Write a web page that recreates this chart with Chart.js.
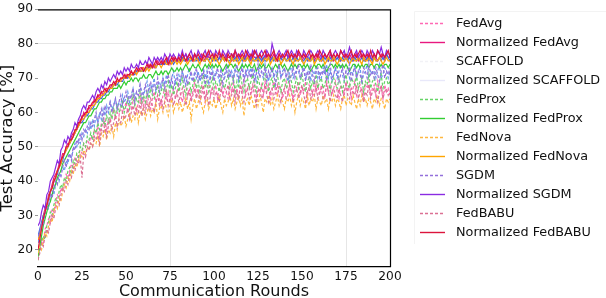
<!DOCTYPE html>
<html>
<head>
<meta charset="utf-8">
<script src="https://cdn.jsdelivr.net/npm/chart.js@4.4.1/dist/chart.umd.min.js"></script>
<style>
html,body{margin:0;padding:0;background:#fff;}
#wrap{width:606px;height:298px;position:relative;}
</style>
</head>
<body>
<div id="wrap"><canvas id="c" width="606" height="298"></canvas></div>
<script>
// ---- data ----
const rounds = Array.from({length: 201}, (_, i) => i);
const xTicks = [0, 25, 50, 75, 100, 125, 150, 175, 200];
const yTicks = [20, 30, 40, 50, 60, 70, 80, 90];
const seriesNames = ["FedAvg", "Normalized FedAvg", "SCAFFOLD", "Normalized SCAFFOLD", "FedProx", "Normalized FedProx",
  "FedNova", "Normalized FedNova", "SGDM", "Normalized SGDM", "FedBABU", "Normalized FedBABU"];

const fedAvg = [
18,21,23,22,26,27,29,28,32,31, 34,36,35,38,37,40,42,41,43,45, 44,47,46,48,49,48,51,50,52,51,
53,52,55,54,56,53,57,56,58,55, 58,57,59,61,58,60,59,62,60,61, 63,60,62,61,64,62,60,63,65,62,
64,62,65,63,61,64,66,63,65,64, 62,65,67,64,66,63,65,67,64,66, 68,65,63,66,68,65,67,64,66,69,
65,67,64,68,66,63,67,69,65,67, 66,68,64,67,69,65,67,66,64,68, 66,69,65,67,64,68,66,70,65,67,
68,65,67,69,64,67,66,68,65,69, 66,68,64,67,69,66,65,68,67,64, 67,69,65,68,66,64,68,67,69,65,
67,66,69,64,68,67,65,69,66,68, 65,68,67,64,69,66,68,65,67,69, 66,64,68,67,65,69,66,68,64,67,
69,65,67,68,66,64,68,67,69,65, 67,68,65,69,66,67,64,68,66,67,65];
const normFedAvg = [
22,25,27,30,32,33,36,37,39,41, 42,43,45,46,48,48,50,51,51,53, 54,54,56,56,58,58,60,59,61,61,
62,62,64,63,65,64,66,65,66,67, 67,67,68,68,69,69,69,70,70,70, 71,70,71,72,71,72,72,73,72,73,
73,72,73,74,73,74,73,74,75,74, 74,75,74,75,76,74,75,76,75,75, 76,75,75,76,77,75,76,76,75,77,
76,75,76,77,76,75,77,76,76,75, 77,76,75,76,77,76,75,77,76,76, 75,77,76,75,76,77,76,75,76,77,
76,75,77,76,76,75,77,76,75,76, 77,76,75,76,77,75,76,77,76,75, 76,77,76,75,77,76,75,76,77,76,
75,76,77,76,75,76,77,75,76,77, 76,75,76,77,76,75,77,76,75,76, 77,76,75,76,77,76,75,77,76,75,
76,77,75,76,77,76,75,76,77,76, 75,77,76,75,76,77,76,75,77,76,76];
const scaffold = [
22,25,26,29,30,33,32,35,37,36, 39,41,40,43,44,43,46,45,48,47, 49,51,50,52,51,54,53,55,54,57,
55,58,56,59,57,60,58,61,59,62, 60,63,61,62,64,61,63,62,65,63, 64,66,63,65,67,64,66,65,68,66,
65,67,69,66,68,67,70,66,68,69, 67,70,68,71,69,67,70,72,68,70, 71,69,72,70,68,71,73,70,69,72,
70,72,69,71,73,70,72,68,71,73, 70,72,71,69,73,71,70,72,74,70, 72,70,73,71,69,72,74,70,71,73,
71,73,70,72,69,71,73,72,70,74, 71,69,72,73,70,72,71,74,70,72, 73,71,69,72,74,70,71,73,72,70,
72,74,70,71,73,69,72,71,73,70, 72,70,73,71,74,70,72,69,71,73, 70,72,74,71,69,72,73,70,72,71,
74,70,72,73,69,71,72,74,70,72, 71,73,70,72,74,70,71,73,72,70,72];
const normScaffold = [
24,26,28,30,31,33,35,37,38,40, 41,42,44,45,46,48,49,50,51,52, 53,54,55,56,57,57,58,59,59,60,
61,61,62,63,63,64,64,65,65,66, 66,67,67,68,68,68,69,69,69,70, 70,70,71,71,71,71,72,72,72,72,
72,73,73,73,73,73,74,73,74,74, 74,74,74,75,74,75,75,74,75,75, 75,75,76,75,75,76,75,75,76,75,
75,76,75,76,75,75,76,75,76,75, 76,75,75,76,75,76,75,76,75,75, 76,75,76,75,75,76,75,76,75,76,
75,76,75,75,76,75,76,75,76,75, 75,76,75,76,75,76,75,75,76,75, 76,75,76,75,75,76,75,76,75,76,
75,75,76,75,76,75,76,75,75,76, 75,76,75,76,75,75,76,75,76,75, 76,75,75,76,75,76,75,76,75,75,
76,75,76,75,76,75,75,76,75,76, 75,76,75,75,76,75,76,75,77,76,75];
const fedProx = [
17,20,22,24,23,27,28,31,30,33, 35,34,37,39,38,41,40,43,44,42, 46,45,48,47,50,49,51,50,53,52,
54,52,55,54,57,55,56,58,56,59, 57,60,58,61,59,62,60,61,63,60, 62,64,61,63,65,62,64,63,66,63,
65,63,66,64,67,65,64,66,68,65, 66,68,65,67,69,66,68,65,67,69, 66,68,70,67,65,68,69,66,68,70,
67,69,66,68,71,67,69,66,68,70, 67,69,68,66,70,68,67,69,71,67, 68,70,66,69,67,71,68,66,69,70,
67,69,71,68,66,70,68,67,69,71, 68,66,69,70,67,69,71,68,66,69, 70,67,68,71,69,66,68,70,67,69,
71,68,66,69,70,67,69,68,71,67, 69,70,67,68,71,69,66,69,70,68, 67,70,68,66,69,71,68,67,70,69,
68,71,67,69,70,66,69,68,71,67, 69,70,68,66,69,71,67,69,70,68,69];
const normFedProx = [
18,21,24,27,29,31,33,34,36,38, 39,41,42,43,45,46,47,48,49,50, 51,52,53,54,55,56,57,57,58,59,
59,60,61,61,62,63,63,64,64,65, 65,66,66,67,67,67,68,67,68,69, 68,69,69,70,69,70,70,69,70,70,
71,70,70,71,71,70,71,72,71,71, 72,71,72,72,71,72,73,72,72,73, 72,73,72,73,74,73,72,73,74,73,
73,74,73,72,73,74,73,74,73,74, 73,74,73,74,73,72,73,74,73,74, 74,73,74,73,72,73,74,73,74,73,
74,73,73,74,72,73,74,73,74,73, 73,74,73,72,73,74,73,74,74,73, 74,73,72,73,74,73,74,73,74,74,
73,74,73,74,73,72,73,74,73,74, 74,73,74,73,72,73,74,74,73,74, 73,74,73,74,73,74,73,72,73,74,
74,73,74,73,74,73,74,74,73,74, 74,73,74,74,73,74,73,74,74,73,74];
const fedNova = [
19,21,20,23,25,24,27,29,28,31, 33,32,35,34,37,39,38,41,40,43, 42,45,44,46,48,47,49,48,50,49,
51,50,52,51,53,50,54,53,55,52, 55,54,56,53,57,55,58,56,57,59, 56,58,60,57,59,58,61,57,60,59,
61,58,60,62,59,61,60,63,58,61, 62,60,63,61,59,62,64,60,62,63, 61,63,60,62,64,61,63,58,62,64,
61,63,65,62,60,63,64,61,63,62, 64,61,63,65,62,60,64,62,63,65, 62,64,61,63,65,62,64,59,63,64,
62,65,63,61,64,62,65,63,60,64, 63,65,62,64,61,63,65,62,64,63, 61,64,63,65,62,64,60,63,65,62,
64,63,61,65,62,64,63,65,61,64, 63,62,65,63,64,61,64,63,65,62, 64,63,61,64,65,62,64,63,62,65,
63,61,64,62,65,63,64,62,64,63, 61,64,63,65,62,64,63,61,64,63,64];
const normFedNova = [
23,24,27,29,31,33,35,37,38,40, 41,43,44,45,47,48,49,50,51,52, 53,54,55,56,57,58,58,59,60,60,
61,62,62,63,64,64,65,65,66,66, 67,67,67,68,68,69,69,69,70,70, 70,71,70,71,71,72,71,72,72,72,
73,72,73,72,73,73,74,73,74,74, 73,74,75,74,74,75,74,75,75,74, 75,74,75,76,75,74,75,76,75,75,
76,75,74,76,75,75,76,75,74,76, 75,76,75,74,75,76,75,76,75,74, 76,75,75,76,74,75,76,75,75,76,
75,74,76,75,75,76,75,74,75,76, 75,76,74,75,76,75,75,76,74,75, 76,75,75,76,75,74,76,75,75,76,
75,74,75,76,75,75,76,74,75,76, 75,75,76,74,75,76,75,75,76,75, 74,75,76,75,75,76,75,74,75,76,
75,75,76,75,74,76,75,75,76,75, 74,76,75,75,76,75,74,75,76,75,75];
const sgdm = [
24,25,28,27,31,32,33,36,35,38, 40,39,42,41,44,46,44,47,48,46, 50,49,52,51,54,52,55,54,56,55,
57,56,58,60,57,59,61,58,62,60, 61,63,60,62,64,61,63,65,62,64, 66,63,65,64,67,63,66,65,68,64,
66,68,65,67,69,66,68,67,70,66, 68,70,67,69,71,68,70,67,69,71, 68,70,72,69,71,68,70,72,69,71,
73,69,71,70,72,68,71,73,70,72, 69,71,73,70,72,68,71,73,70,72, 71,69,72,74,70,71,73,69,72,70,
72,70,73,69,71,74,70,72,71,73, 69,72,70,73,71,68,72,74,70,71, 73,70,72,69,71,73,70,72,74,70,
71,73,69,72,70,74,71,69,72,73, 70,72,71,73,69,72,74,70,71,73, 72,69,71,73,70,72,71,74,69,72,
73,70,72,71,69,73,72,70,74,71, 72,70,73,71,69,72,74,70,72,71,73];
const normSgdm = [
27,28,31,33,32,36,37,40,41,42, 44,46,45,49,50,52,51,53,52,54, 55,57,56,58,59,61,62,61,63,63,
64,65,64,66,67,66,68,67,69,68, 70,69,70,71,70,72,71,72,71,73, 72,73,72,74,73,73,74,73,75,74,
74,75,74,76,75,74,76,75,76,75, 76,75,77,76,75,77,76,77,76,75, 77,76,78,76,77,76,77,78,76,77,
76,78,77,76,77,78,76,77,78,77, 76,78,77,77,76,78,77,76,78,77, 77,76,78,77,76,77,78,77,76,78,
77,76,78,77,78,76,77,78,77,76, 78,77,76,80,78,76,77,78,77,76, 77,78,76,77,78,77,76,78,77,77,
76,78,77,76,77,78,77,76,77,78, 77,76,78,77,76,77,78,76,77,78, 77,76,78,77,78,76,77,79,77,76,
77,78,76,77,78,77,76,78,77,76, 78,77,76,78,77,79,77,76,78,77,77];
const fedBabu = [
17,19,22,21,24,26,25,28,30,29, 32,34,33,36,38,37,40,39,42,41, 44,43,46,45,47,41,48,47,50,49,
51,50,53,52,54,51,55,54,56,53, 56,58,55,57,59,56,58,57,60,58, 59,61,58,60,62,59,61,60,63,59,
62,60,63,61,64,62,60,63,65,62, 64,61,63,66,62,64,65,62,64,66, 63,65,67,64,62,65,66,63,65,67,
64,66,63,65,68,64,66,62,65,67, 64,66,65,63,67,65,64,66,68,64, 65,67,63,66,64,68,65,63,66,67,
64,66,68,65,62,66,67,64,65,68, 65,63,66,67,64,66,68,65,63,66, 67,64,65,68,66,63,65,67,64,66,
68,65,63,66,67,64,66,65,68,64, 66,67,64,65,68,66,63,66,67,65, 64,67,65,63,66,68,65,64,67,66,
65,68,64,66,67,63,66,65,68,64, 66,67,65,63,66,68,64,66,67,65,66];
const normFedBabu = [
20,23,26,29,31,33,35,37,38,40, 41,43,44,46,47,48,50,50,52,52, 53,55,55,57,57,59,59,60,60,62,
62,63,63,64,65,65,66,66,67,66, 67,68,68,69,68,70,69,70,70,71, 70,71,71,72,71,72,73,72,73,73,
72,73,74,73,74,73,74,75,74,74, 75,74,75,76,74,75,76,75,76,75, 76,75,77,76,75,76,77,76,75,77,
76,77,76,75,77,76,77,78,76,77, 76,77,76,78,76,77,76,75,77,76, 77,76,78,76,77,76,77,76,78,77,
76,77,76,78,77,76,77,76,77,78, 76,77,76,77,78,76,75,77,76,77, 76,77,78,76,77,76,77,76,78,77,
76,77,76,77,78,76,77,76,77,76, 78,77,76,77,76,77,78,76,77,76, 77,76,78,77,76,77,76,77,78,76,
77,76,77,78,76,77,76,77,76,78, 76,77,76,78,77,76,77,76,77,78,76];

// ---- styles ----
const seriesValues = [fedAvg, normFedAvg, scaffold, normScaffold, fedProx, normFedProx,
  fedNova, normFedNova, sgdm, normSgdm, fedBabu, normFedBabu];
const lineColors = ["#ff69b4", "#e8187f", "#6495ed", "#4169e1", "#66d466", "#32cd32",
  "#ffb840", "#ffa500", "#9370db", "#8a2be2", "#db7093", "#dc143c"];
const legendColors = ["#ff69b4", "#e8187f", "#f2f2f6", "#e8e8fa", "#66d466", "#32cd32",
  "#ffb840", "#ffa500", "#9370db", "#8a2be2", "#db7093", "#dc143c"];
const dashedFlags = [true, false, true, false, true, false, true, false, true, false, true, false];

const datasets = seriesValues.map((vals, i) => ({
  label: seriesNames[i],
  data: vals.map((v, k) => ({x: rounds[k], y: v})),
  borderColor: lineColors[i],
  backgroundColor: lineColors[i],
  borderWidth: 1.2,
  borderDash: dashedFlags[i] ? [3, 2] : [],
  pointRadius: 0,
  tension: 0,
  fill: false,
  order: seriesValues.length - i
}));

const FONT = "'DejaVu Sans', sans-serif";

const framePlugin = {
  id: 'frame',
  afterDatasetsDraw(chart) {
    const {ctx, chartArea: a} = chart;
    ctx.save();
    ctx.strokeStyle = '#000';
    ctx.lineWidth = 1.2;
    ctx.beginPath();
    ctx.moveTo(a.left, a.top + 0.5);
    ctx.lineTo(a.right + 0.5, a.top + 0.5);
    ctx.lineTo(a.right + 0.5, a.bottom);
    ctx.stroke();
    ctx.restore();
  },
  afterDraw(chart) {
    const ctx = chart.ctx;
    ctx.save();
    // legend frame
    ctx.strokeStyle = '#f3f3f3';
    ctx.lineWidth = 1;
    ctx.beginPath();
    ctx.moveTo(414.5, 244);
    ctx.lineTo(414.5, 11.5);
    ctx.lineTo(610, 11.5);
    ctx.stroke();
    ctx.font = "12.8px " + FONT;
    ctx.textBaseline = 'middle';
    ctx.fillStyle = '#111';
    seriesNames.forEach((name, i) => {
      const y = 23 + i * 19.0;
      ctx.strokeStyle = legendColors[i];
      ctx.lineWidth = 1.4;
      ctx.setLineDash(dashedFlags[i] ? [3, 2] : []);
      ctx.beginPath();
      ctx.moveTo(420, Math.round(y) + 0.5);
      ctx.lineTo(445, Math.round(y) + 0.5);
      ctx.stroke();
      ctx.setLineDash([]);
      ctx.fillText(name, 456, y + 0.5);
    });
    ctx.restore();
  }
};

new Chart(document.getElementById('c'), {
  type: 'line',
  data: {datasets},
  options: {
    responsive: false,
    animation: false,
    events: [],
    layout: {padding: {top: 5, right: 216, left: 0, bottom: 0}},
    plugins: {legend: {display: false}, tooltip: {enabled: false}},
    scales: {
      x: {
        type: 'linear', min: 0, max: 200,
        afterBuildTicks: s => { s.ticks = xTicks.map(v => ({value: v})); },
        afterFit: s => { s.height = 31; },
        ticks: {font: {family: FONT, size: 12.2}, color: '#111', padding: 3, maxRotation: 0, autoSkip: false},
        grid: {
          drawTicks: false,
          color: c => (c.tick && (c.tick.value === 75 || c.tick.value === 175)) ? '#e6e6e6' : 'rgba(0,0,0,0)',
          lineWidth: 1
        },
        border: {display: true, color: '#000', width: 1.2},
        title: {display: true, text: 'Communication Rounds', font: {family: FONT, size: 16, lineHeight: 0.8}, color: '#111', padding: {top: 0, bottom: 0}}
      },
      y: {
        type: 'linear', min: 15, max: 90,
        afterBuildTicks: s => { s.ticks = yTicks.map(v => ({value: v})); },
        afterFit: s => { s.width = 38; },
        ticks: {font: {family: FONT, size: 12.2}, color: '#111', padding: 2},
        grid: {
          drawTicks: true, tickLength: 3,
          tickColor: '#999',
          color: c => (c.tick && (c.tick.value === 50 || c.tick.value === 80)) ? '#e6e6e6' : 'rgba(0,0,0,0)',
          lineWidth: 1
        },
        border: {display: false},
        title: {display: true, text: 'Test Accuracy [%]', font: {family: FONT, size: 16.5, lineHeight: 1}, color: '#111', padding: {top: -1, bottom: 0}}
      }
    }
  },
  plugins: [framePlugin]
});
</script>
</body>
</html>
